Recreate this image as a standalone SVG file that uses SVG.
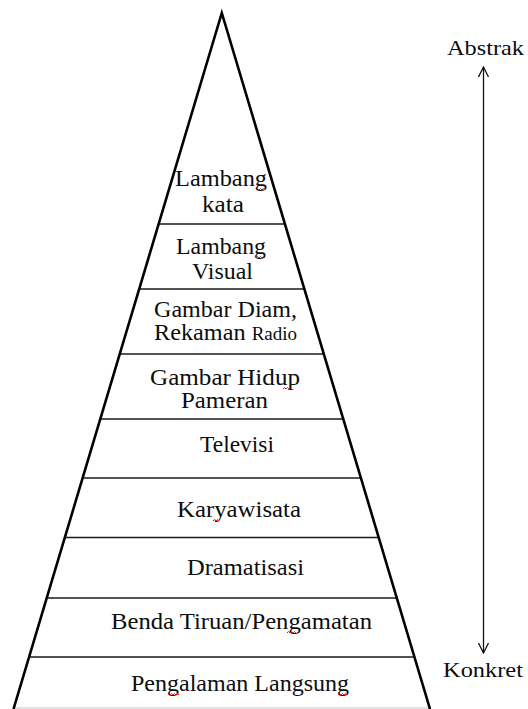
<svg xmlns="http://www.w3.org/2000/svg" width="528" height="709" viewBox="0 0 528 709">
  <style>
    .edge { fill: none; stroke: #000; stroke-width: 2.6; stroke-linejoin: miter; }
    .tier { stroke: #1a1a1a; stroke-width: 1.5; }
    .base { stroke: #c8c8c8; stroke-width: 1.2; }
    .lbl { font-family: "Liberation Serif", "Times New Roman", serif; font-size: 23px; fill: #0d0d0d; }
    .side { font-family: "Liberation Serif", "Times New Roman", serif; font-size: 21px; fill: #0d0d0d; }
    .small { font-size: 18px; }
    .axis { stroke: #111; stroke-width: 1.3; fill: none; }
    .spell { fill: none; stroke: #e02020; stroke-width: 1; }
  </style>
  <defs>
    <marker id="openHead" viewBox="0 0 12 12" refX="11" refY="6" markerWidth="12" markerHeight="12" markerUnits="userSpaceOnUse" orient="auto-start-reverse">
      <path d="M1,1 L11,6 L1,11" fill="none" stroke="#111" stroke-width="1.3"/>
    </marker>
  </defs>
  <rect width="528" height="709" fill="#fff"/>

  <!-- pyramid outline and tier dividers -->
  <g id="pyramid">
    <line class="base" x1="13.5" y1="708" x2="430" y2="708"/>
    <line class="tier" x1="159" y1="224" x2="285" y2="224"/>
    <line class="tier" x1="140" y1="289" x2="304" y2="289"/>
    <line class="tier" x1="120" y1="354" x2="324" y2="354"/>
    <line class="tier" x1="100" y1="419" x2="343" y2="419"/>
    <line class="tier" x1="82" y1="478" x2="361" y2="478"/>
    <line class="tier" x1="65" y1="537.5" x2="379" y2="537.5"/>
    <line class="tier" x1="47" y1="598" x2="397" y2="598"/>
    <line class="tier" x1="29" y1="657" x2="414" y2="657"/>
    <polyline class="edge" points="13.5,709 221.8,13 430,709"/>
  </g>

  <!-- tier labels, top to bottom -->
  <g id="tier-lambang-kata">
    <text class="lbl" x="175" y="186" textLength="92" lengthAdjust="spacingAndGlyphs">Lambang</text>
    <text class="lbl" x="202" y="212" textLength="42" lengthAdjust="spacingAndGlyphs">kata</text>
  </g>
  <g id="tier-lambang-visual">
    <text class="lbl" x="176" y="254" textLength="90" lengthAdjust="spacingAndGlyphs">Lambang</text>
    <text class="lbl" x="192" y="279" textLength="61" lengthAdjust="spacingAndGlyphs">Visual</text>
  </g>
  <g id="tier-gambar-diam">
    <text class="lbl" x="154" y="317" textLength="143" lengthAdjust="spacingAndGlyphs">Gambar Diam,</text>
    <text class="lbl" x="154" y="340" textLength="143" lengthAdjust="spacingAndGlyphs">Rekaman <tspan class="small">Radio</tspan></text>
  </g>
  <g id="tier-gambar-hidup">
    <text class="lbl" x="150" y="385" textLength="150" lengthAdjust="spacingAndGlyphs">Gambar Hidup</text>
    <text class="lbl" x="181" y="408" textLength="87" lengthAdjust="spacingAndGlyphs">Pameran</text>
  </g>
  <g id="tier-televisi">
    <text class="lbl" x="200" y="452" textLength="74" lengthAdjust="spacingAndGlyphs">Televisi</text>
  </g>
  <g id="tier-karyawisata">
    <text class="lbl" x="177" y="517" textLength="124" lengthAdjust="spacingAndGlyphs">Karyawisata</text>
  </g>
  <g id="tier-dramatisasi">
    <text class="lbl" x="187" y="575" textLength="117" lengthAdjust="spacingAndGlyphs">Dramatisasi</text>
  </g>
  <g id="tier-benda-tiruan">
    <text class="lbl" x="111" y="629" textLength="261" lengthAdjust="spacingAndGlyphs">Benda Tiruan/Pengamatan</text>
  </g>
  <g id="tier-pengalaman">
    <text class="lbl" x="131" y="691" textLength="218" lengthAdjust="spacingAndGlyphs">Pengalaman Langsung</text>
  </g>

  <!-- axis end labels -->
  <g id="label-abstrak">
    <text class="side" x="447" y="55" textLength="77" lengthAdjust="spacingAndGlyphs">Abstrak</text>
  </g>
  <g id="label-konkret">
    <text class="side" x="443" y="677" textLength="80" lengthAdjust="spacingAndGlyphs">Konkret</text>
  </g>

  <!-- connectors -->
  <g id="connectors">
    <line class="axis" x1="483.5" y1="67" x2="483.5" y2="653" marker-start="url(#openHead)" marker-end="url(#openHead)"/>
  </g>

  <!-- spell-check underlines -->
  <g id="spellmarks">
    <path class="spell" d="M256,190 l1.5,-1.5 l1.5,1.5 l1.5,-1.5 l1.5,1.5 l1.5,-1.5 l1.5,1.5"/>
    <path class="spell" d="M256,258 l1.5,-1.5 l1.5,1.5 l1.5,-1.5 l1.5,1.5 l1.5,-1.5 l1.5,1.5"/>
    <path class="spell" d="M283,389 l1.5,-1.5 l1.5,1.5 l1.5,-1.5 l1.5,1.5"/>
    <path class="spell" d="M213,521 l1.5,-1.5 l1.5,1.5 l1.5,-1.5 l1.5,1.5"/>
    <path class="spell" d="M287,633 l1.5,-1.5 l1.5,1.5 l1.5,-1.5 l1.5,1.5 l1.5,-1.5 l1.5,1.5"/>
    <path class="spell" d="M170,695 l1.5,-1.5 l1.5,1.5 l1.5,-1.5 l1.5,1.5 l1.5,-1.5 l1.5,1.5"/>
    <path class="spell" d="M338,695 l1.5,-1.5 l1.5,1.5 l1.5,-1.5 l1.5,1.5 l1.5,-1.5 l1.5,1.5"/>
  </g>
</svg>
